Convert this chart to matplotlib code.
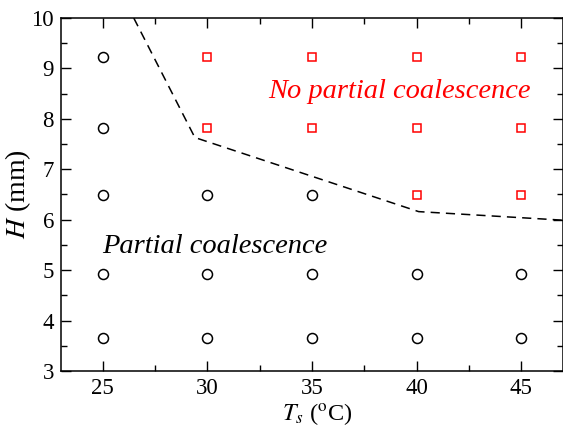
import matplotlib
matplotlib.use('Agg')
import matplotlib.pyplot as plt
from matplotlib.ticker import MultipleLocator

plt.rcParams['font.family'] = 'Liberation Serif'
plt.rcParams['mathtext.fontset'] = 'stix'

# --- data ---
circ_x = [25, 25, 25, 25, 25, 30, 30, 30, 35, 35, 35, 40, 40, 45, 45]
circ_y = [9.23, 7.82, 6.49, 4.93, 3.66, 6.49, 4.93, 3.66, 6.49, 4.93, 3.66, 4.93, 3.66, 4.93, 3.66]
sq_x = [30, 35, 40, 45, 30, 35, 40, 45, 40, 45]
sq_y = [9.23, 9.23, 9.23, 9.23, 7.82, 7.82, 7.82, 7.82, 6.49, 6.49]
bound_x = [26.48, 29.4, 40.1, 47.0]
bound_y = [10.0, 7.63, 6.16, 5.99]

fig = plt.figure(figsize=(5.63, 4.40), dpi=100)
ax = fig.add_axes([0.1083, 0.157, 0.8917, 0.802])

ax.plot(circ_x, circ_y, 'o', mfc='none', mec='black', ms=7.2, mew=1.1)
ax.plot(sq_x, sq_y, 's', mfc='none', mec='red', ms=6.2, mew=1.1)
ax.plot(bound_x, bound_y, color='black', lw=1.1, dashes=(6, 4))

ax.text(32.9, 8.41, 'No partial coalescence', color='red', style='italic',
        fontsize=20.5, va='baseline', ha='left')
ax.text(24.95, 5.34, 'Partial coalescence', color='black', style='italic',
        fontsize=20.5, va='baseline', ha='left')

ax.set_xlim(23, 47)
ax.set_ylim(3, 10)
ax.xaxis.set_major_locator(MultipleLocator(5))
ax.xaxis.set_minor_locator(MultipleLocator(2.5))
ax.yaxis.set_major_locator(MultipleLocator(1))
ax.yaxis.set_minor_locator(MultipleLocator(0.5))
ax.tick_params(which='both', direction='in', top=True, right=True, labelsize=16.5)
ax.tick_params(which='major', length=7, width=1, pad=5)
ax.tick_params(which='minor', length=4, width=1)
for s in ax.spines.values():
    s.set_linewidth(1.1)

ax.set_xlabel(r'$T_s$ ($^{\mathrm{o}}$C)', fontsize=17.5)
ax.set_ylabel(r'$H$ (mm)', fontsize=20)
ax.xaxis.set_label_coords(0.51, -0.085)
ax.yaxis.set_label_coords(-0.056, 0.5)

fig.savefig('out.png', dpi=100)
